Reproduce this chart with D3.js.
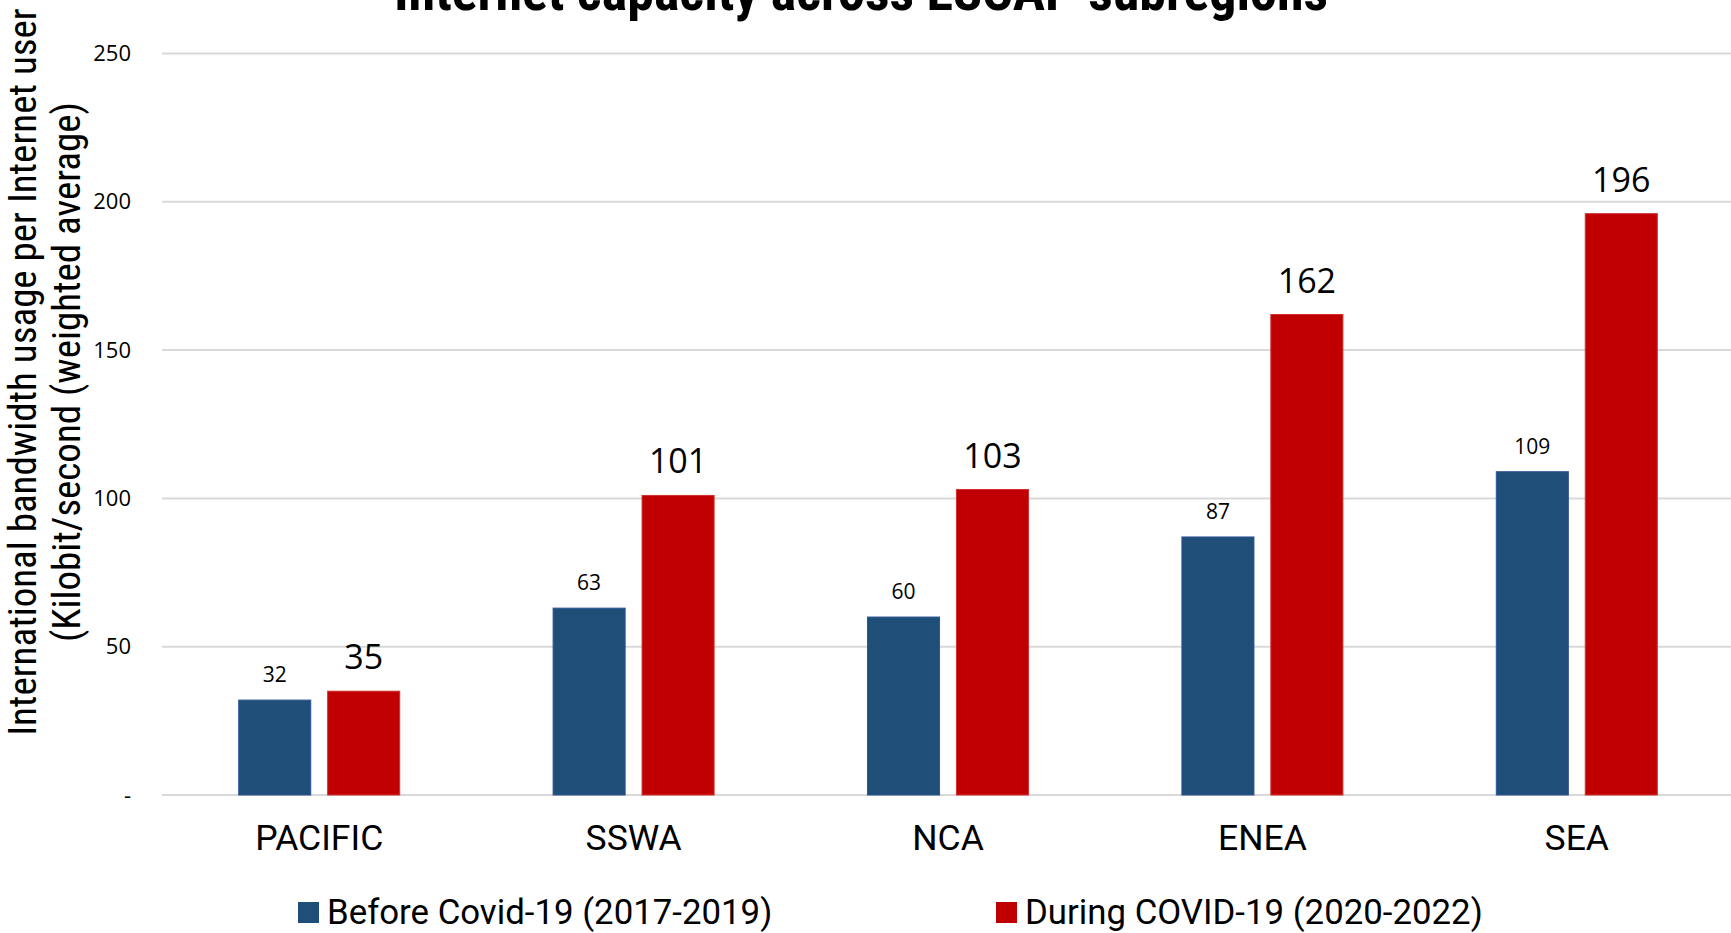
<!DOCTYPE html>
<html>
<head>
<meta charset="utf-8">
<script src="https://cdn.jsdelivr.net/npm/d3@7"></script>
<style>
  html, body { margin: 0; padding: 0; background: #fff; overflow: hidden; }
  svg { display: block; }
</style>
</head>
<body>
<svg id="chart" width="1731" height="933"></svg>
<script>
// data
const categories = ['PACIFIC', 'SSWA', 'NCA', 'ENEA', 'SEA'];
const seriesNames = ['Before Covid-19 (2017-2019)', 'During COVID-19 (2020-2022)'];
const beforeValues = [32, 63, 60, 87, 109];
const duringValues = [35, 101, 103, 162, 196];
const yTicks = [0, 50, 100, 150, 200, 250];
const colors = ['#1F4E79', '#C00000'];

const svg = d3.select('#chart');
const width = +svg.attr('width'),
  height = +svg.attr('height');

// plot area
const plotLeft = 162, plotRight = 1734, plotTop = 53.5, plotBottom = 795;

const x0 = d3.scaleBand().domain(categories).range([plotLeft, plotRight]).padding(0);
const groupW = 161;
const x1 = d3.scaleBand().domain([0, 1])
  .range([x0.bandwidth() / 2 - groupW / 2, x0.bandwidth() / 2 + groupW / 2])
  .paddingInner(0.19).paddingOuter(0);
const y = d3.scaleLinear().domain([0, 250]).range([plotBottom, plotTop]);

const rows = categories.map((c, i) => ({ cat: c, vals: [beforeValues[i], duringValues[i]] }));

// gridlines
svg.append('g')
  .selectAll('line')
  .data(yTicks)
  .join('line')
  .attr('x1', plotLeft).attr('x2', width)
  .attr('y1', d => y(d)).attr('y2', d => y(d))
  .attr('stroke', '#d9d9d9')
  .attr('stroke-width', 2);

// y tick labels
const yAxis = d3.axisLeft(y).tickValues(yTicks).tickSize(0).tickPadding(0)
  .tickFormat(d => d === 0 ? '-' : d);
svg.append('g')
  .attr('transform', 'translate(131,0)')
  .call(yAxis)
  .call(g => g.select('.domain').remove())
  .call(g => g.selectAll('text')
    .attr('font-family', '"Open Sans", sans-serif')
    .attr('font-size', 22)
    .attr('fill', '#000'));

// bars
const groups = svg.append('g')
  .selectAll('g')
  .data(rows)
  .join('g')
  .attr('transform', d => 'translate(' + x0(d.cat) + ',0)');

groups.selectAll('rect')
  .data(d => d.vals.map((v, i) => ({ i, v })))
  .join('rect')
  .attr('x', d => x1(d.i))
  .attr('width', x1.bandwidth())
  .attr('y', d => y(d.v))
  .attr('height', d => y(0) - y(d.v))
  .attr('fill', d => colors[d.i])
  .attr('stroke', d => d.i === 0 ? '#2f5597' : '#d03030')
  .attr('stroke-width', 1);

// value labels
groups.selectAll('text')
  .data(d => d.vals.map((v, i) => ({ i, v })))
  .join('text')
  .attr('x', d => x1(d.i) + x1.bandwidth() / 2)
  .attr('y', d => y(d.v) - (d.i === 0 ? 18 : 22))
  .attr('text-anchor', 'middle')
  .attr('font-family', '"Open Sans", sans-serif')
  .attr('font-size', d => d.i === 0 ? 21 : 34)
  .attr('fill', '#000')
  .text(d => d.v);

// category labels
svg.append('g')
  .selectAll('text')
  .data(categories)
  .join('text')
  .attr('x', d => x0(d) + x0.bandwidth() / 2)
  .attr('y', 850)
  .attr('text-anchor', 'middle')
  .attr('font-family', 'Roboto, sans-serif')
  .attr('font-size', 35.5)
  .attr('fill', '#000')
  .text(d => d);

// title (partly cut off at the top)
svg.append('text')
  .attr('x', 861)
  .attr('y', 10)
  .attr('text-anchor', 'middle')
  .attr('font-family', '"Liberation Sans Narrow", "Roboto Condensed", sans-serif')
  .attr('font-weight', 'bold')
  .attr('font-size', 54)
  .attr('fill', '#000')
  .text('Internet capacity across ESCAP  subregions');

// y axis title
const yTitle = svg.append('text')
  .attr('transform', 'translate(36,372) rotate(-90)')
  .attr('text-anchor', 'middle')
  .attr('font-family', '"Liberation Sans Narrow", "Roboto Condensed", sans-serif')
  .attr('font-size', 39)
  .attr('fill', '#000');
yTitle.append('tspan').attr('x', 0).attr('dy', 0).text('International bandwidth usage per Internet  user');
yTitle.append('tspan').attr('x', 0).attr('dy', 44).text('(Kilobit/second (weighted average)');

// legend
const legendX = [298, 996];
const legend = svg.append('g')
  .selectAll('g')
  .data(seriesNames)
  .join('g')
  .attr('transform', (d, i) => 'translate(' + legendX[i] + ',902)');
legend.append('rect')
  .attr('width', 21).attr('height', 21)
  .attr('fill', (d, i) => colors[i]);
legend.append('text')
  .attr('x', 29).attr('y', 22)
  .attr('font-family', 'Roboto, sans-serif')
  .attr('font-size', 34.8)
  .attr('fill', '#000')
  .text(d => d);
</script>
</body>
</html>
